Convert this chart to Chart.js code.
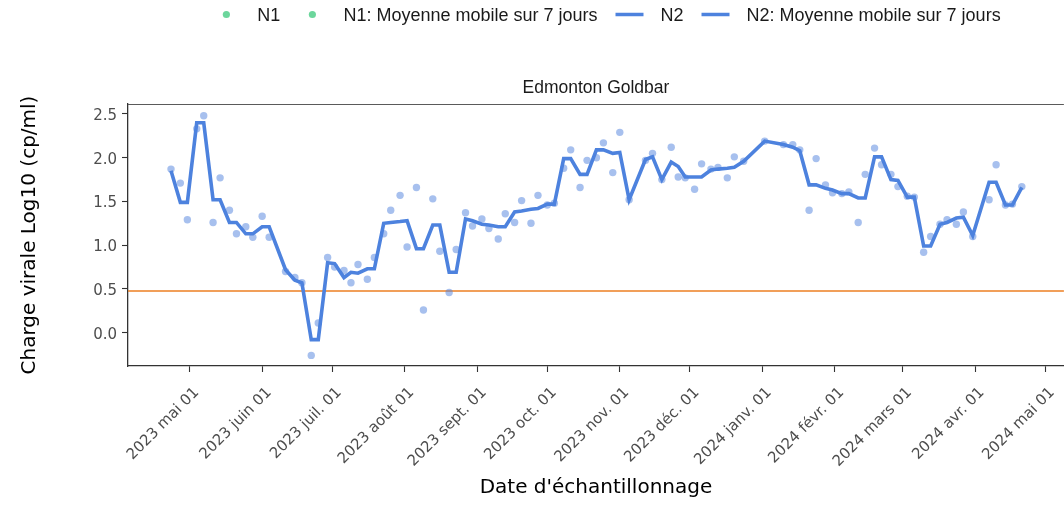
<!DOCTYPE html>
<html>
<head>
<meta charset="utf-8">
<script src="https://cdn.jsdelivr.net/npm/chart.js@4.4.1/dist/chart.umd.min.js"></script>
<style>
html,body{margin:0;padding:0;overflow:hidden;background:#ffffff;width:1064px;height:509px}
#wrap{width:1070px;height:509px;position:relative}
</style>
</head>
<body>
<div id="wrap"><canvas id="c" width="1070" height="509"></canvas></div>
<script>
// ---------------- data ----------------
const sampleDates = [
 '2023-04-23','2023-04-27','2023-04-30','2023-05-04','2023-05-07','2023-05-11','2023-05-14','2023-05-18','2023-05-21','2023-05-25',
 '2023-05-28','2023-06-01','2023-06-04','2023-06-11','2023-06-15','2023-06-18','2023-06-22','2023-06-25','2023-06-29','2023-07-02',
 '2023-07-06','2023-07-09','2023-07-12','2023-07-16','2023-07-19','2023-07-23','2023-07-26','2023-07-30','2023-08-02','2023-08-06',
 '2023-08-09','2023-08-13','2023-08-16','2023-08-20','2023-08-23','2023-08-27','2023-08-30','2023-09-03','2023-09-06','2023-09-10',
 '2023-09-13','2023-09-17','2023-09-20','2023-09-24','2023-09-27','2023-10-01','2023-10-04','2023-10-08','2023-10-11','2023-10-15',
 '2023-10-18','2023-10-22','2023-10-25','2023-10-29','2023-11-01','2023-11-05','2023-11-12','2023-11-15','2023-11-19','2023-11-23',
 '2023-11-26','2023-11-29','2023-12-03','2023-12-06','2023-12-10','2023-12-13','2023-12-17','2023-12-20','2023-12-24','2024-01-02',
 '2024-01-10','2024-01-14','2024-01-17','2024-01-21','2024-01-24','2024-01-28','2024-01-31','2024-02-04','2024-02-07','2024-02-11',
 '2024-02-14','2024-02-18','2024-02-21','2024-02-25','2024-02-28','2024-03-03','2024-03-06','2024-03-10','2024-03-13','2024-03-17',
 '2024-03-20','2024-03-24','2024-03-27','2024-03-31','2024-04-07','2024-04-10','2024-04-14','2024-04-17','2024-04-21'
];
const n2Values = [
 1.87,1.71,1.29,2.33,2.48,1.26,1.77,1.40,1.13,1.21,
 1.09,1.33,1.09,0.70,0.63,0.57,-0.26,0.11,0.86,0.75,
 0.71,0.57,0.78,0.61,0.86,1.13,1.40,1.57,0.98,1.66,
 0.26,1.53,0.93,0.46,0.95,1.37,1.22,1.30,1.19,1.07,
 1.36,1.26,1.51,1.25,1.57,1.46,1.48,1.88,2.09,1.66,
 1.97,2.00,2.17,1.83,2.29,1.52,1.97,2.05,1.75,2.12,
 1.78,1.77,1.64,1.93,1.87,1.89,1.77,2.01,1.96,2.19,
 2.15,2.15,2.09,1.40,1.99,1.69,1.60,1.59,1.61,1.26,
 1.81,2.11,1.92,1.81,1.67,1.56,1.55,0.92,1.10,1.24,
 1.29,1.24,1.38,1.10,1.52,1.92,1.46,1.47,1.67
];
const n2Moving = [
 1.85,1.49,1.49,2.40,2.40,1.52,1.52,1.26,1.26,1.13,
 1.13,1.21,1.21,0.72,0.60,0.57,-0.08,-0.08,0.80,0.79,
 0.63,0.69,0.68,0.73,0.73,1.25,1.26,1.27,1.28,0.96,
 0.96,1.23,1.23,0.69,0.69,1.30,1.28,1.24,1.23,1.21,
 1.21,1.38,1.39,1.41,1.42,1.47,1.47,1.99,1.99,1.81,
 1.81,2.09,2.09,2.05,2.06,1.52,1.98,2.01,1.75,1.95,
 1.90,1.78,1.78,1.78,1.86,1.87,1.88,1.89,1.96,2.19,
 2.15,2.12,2.08,1.69,1.69,1.65,1.63,1.59,1.59,1.54,
 1.54,2.01,2.01,1.75,1.74,1.55,1.55,0.99,0.99,1.24,
 1.26,1.31,1.32,1.11,1.72,1.72,1.46,1.46,1.66
];
const monthTicks = ['2023-05-01','2023-06-01','2023-07-01','2023-08-01','2023-09-01','2023-10-01','2023-11-01',
 '2023-12-01','2024-01-01','2024-02-01','2024-03-01','2024-04-01','2024-05-01'];
const monthTickLabels = ['2023 mai 01','2023 juin 01','2023 juil. 01','2023 août 01','2023 sept. 01','2023 oct. 01',
 '2023 nov. 01','2023 déc. 01','2024 janv. 01','2024 févr. 01','2024 mars 01','2024 avr. 01','2024 mai 01'];
const yTickValues = [0, 0.5, 1, 1.5, 2, 2.5];
const thresholdValue = 0.477;
const legendLabels = ['N1', 'N1: Moyenne mobile sur 7 jours', 'N2', 'N2: Moyenne mobile sur 7 jours'];
const panelTitle = 'Edmonton Goldbar';
const xAxisTitle = "Date d'échantillonnage";
const yAxisTitle = 'Charge virale Log10 (cp/ml)';

// ---------------- helpers ----------------
const ORIGIN = Date.UTC(2023, 4, 1);
function dayOf(s) { const p = s.split('-').map(Number); return (Date.UTC(p[0], p[1] - 1, p[2]) - ORIGIN) / 86400000; }
const tickDays = monthTicks.map(dayOf);
const labelByDay = new Map(tickDays.map((d, i) => [d, monthTickLabels[i]]));

const X_MIN = -26.4, X_MAX = 374.0, Y_MIN = -0.381, Y_MAX = 2.614;
const LINE_COLOR = '#4d82de';
const DOT_COLOR = 'rgba(79,130,222,0.5)';
const N1_COLOR = '#6cd69c';
const ORANGE = '#ec7f22';
const TICK_FONT = { family: '"DejaVu Sans", sans-serif', size: 15 };
const TITLE_FONT = { family: '"DejaVu Sans", sans-serif', size: 20 };
const LEGEND_FONT = '18px "Liberation Sans", Arial, sans-serif';
const STRIP_FONT = '17.5px "Liberation Sans", Arial, sans-serif';

const decorations = {
  id: 'decorations',
  afterDraw(chart) {
    const c = chart.ctx, a = chart.chartArea;
    c.save();
    // panel top border
    c.strokeStyle = '#5a5a5a'; c.lineWidth = 1.2;
    c.beginPath(); c.moveTo(a.left, a.top + 0.5); c.lineTo(a.right, a.top + 0.5); c.stroke();
    // facet title
    c.font = STRIP_FONT; c.fillStyle = '#1a1a1a';
    c.textAlign = 'center'; c.textBaseline = 'middle';
    c.fillText(panelTitle, (a.left + a.right) / 2, 88);
    // legend
    c.font = LEGEND_FONT;
    c.textAlign = 'left';
    const widths = legendLabels.map(t => c.measureText(t).width);
    const total = widths.reduce((s, w) => s + 45 + w, 0) + 18 * (legendLabels.length - 1);
    let x = 606.5 - total / 2;
    const y = 16;
    legendLabels.forEach((t, i) => {
      const kc = x + 14;
      if (i < 2) {
        c.fillStyle = N1_COLOR; c.beginPath(); c.arc(kc, y - 1.5, 3.6, 0, Math.PI * 2); c.fill();
      } else {
        c.strokeStyle = LINE_COLOR; c.lineWidth = 3.5;
        c.beginPath(); c.moveTo(kc - 14, y - 1.5); c.lineTo(kc + 14, y - 1.5); c.stroke();
      }
      c.fillStyle = '#1a1a1a';
      c.fillText(t, kc + 31, y);
      x = kc + 31 + widths[i] + 18;
    });
    c.restore();
  }
};

new Chart(document.getElementById('c'), {
  type: 'line',
  data: {
    datasets: [
      {
        label: 'N2: Moyenne mobile sur 7 jours',
        data: sampleDates.map((s, i) => ({ x: dayOf(s), y: n2Moving[i] })),
        borderColor: LINE_COLOR, borderWidth: 3.6, pointRadius: 0, tension: 0, fill: false, order: 0
      },
      {
        label: 'N2',
        data: sampleDates.map((s, i) => ({ x: dayOf(s), y: n2Values[i] })),
        showLine: false, pointRadius: 3.7, pointBorderWidth: 0,
        pointBackgroundColor: DOT_COLOR, backgroundColor: DOT_COLOR, borderColor: DOT_COLOR, order: 1
      },
      {
        label: 'seuil',
        data: [{ x: X_MIN, y: thresholdValue }, { x: X_MAX, y: thresholdValue }],
        borderColor: ORANGE, borderWidth: 1.4, pointRadius: 0, fill: false, order: 2
      }
    ]
  },
  options: {
    responsive: false, animation: false, devicePixelRatio: 1,
    layout: { padding: { top: 104, right: 1, left: 0, bottom: 0 } },
    plugins: { legend: { display: false }, tooltip: { enabled: false }, title: { display: false } },
    scales: {
      x: {
        type: 'linear', min: X_MIN, max: X_MAX,
        afterBuildTicks: s => { s.ticks = tickDays.map(v => ({ value: v })); },
        afterFit: s => { s.height = 143; },
        ticks: {
          callback: v => labelByDay.get(v) || '', autoSkip: false, minRotation: 45, maxRotation: 45,
          labelOffset: 7, padding: 12, color: '#4d4d4d', font: TICK_FONT
        },
        grid: { drawOnChartArea: false, tickLength: 6, tickColor: '#333333', tickWidth: 1.1 },
        border: { color: '#333333', width: 1.3 },
        title: { display: true, text: xAxisTitle, color: '#000000', font: TITLE_FONT, padding: { top: 0, bottom: 9 } }
      },
      y: {
        type: 'linear', min: Y_MIN, max: Y_MAX,
        afterBuildTicks: s => { s.ticks = yTickValues.map(v => ({ value: v })); },
        afterFit: s => { s.width = 128; },
        ticks: { callback: v => v.toFixed(1), padding: 5, labelOffset: 2, color: '#4d4d4d', font: TICK_FONT },
        grid: { drawOnChartArea: false, tickLength: 6, tickColor: '#333333', tickWidth: 1.1 },
        border: { color: '#333333', width: 1.3 },
        title: { display: true, text: yAxisTitle, color: '#000000', font: TITLE_FONT, padding: { top: 18, bottom: 0 } }
      }
    }
  },
  plugins: [decorations]
});
</script>
</body>
</html>
